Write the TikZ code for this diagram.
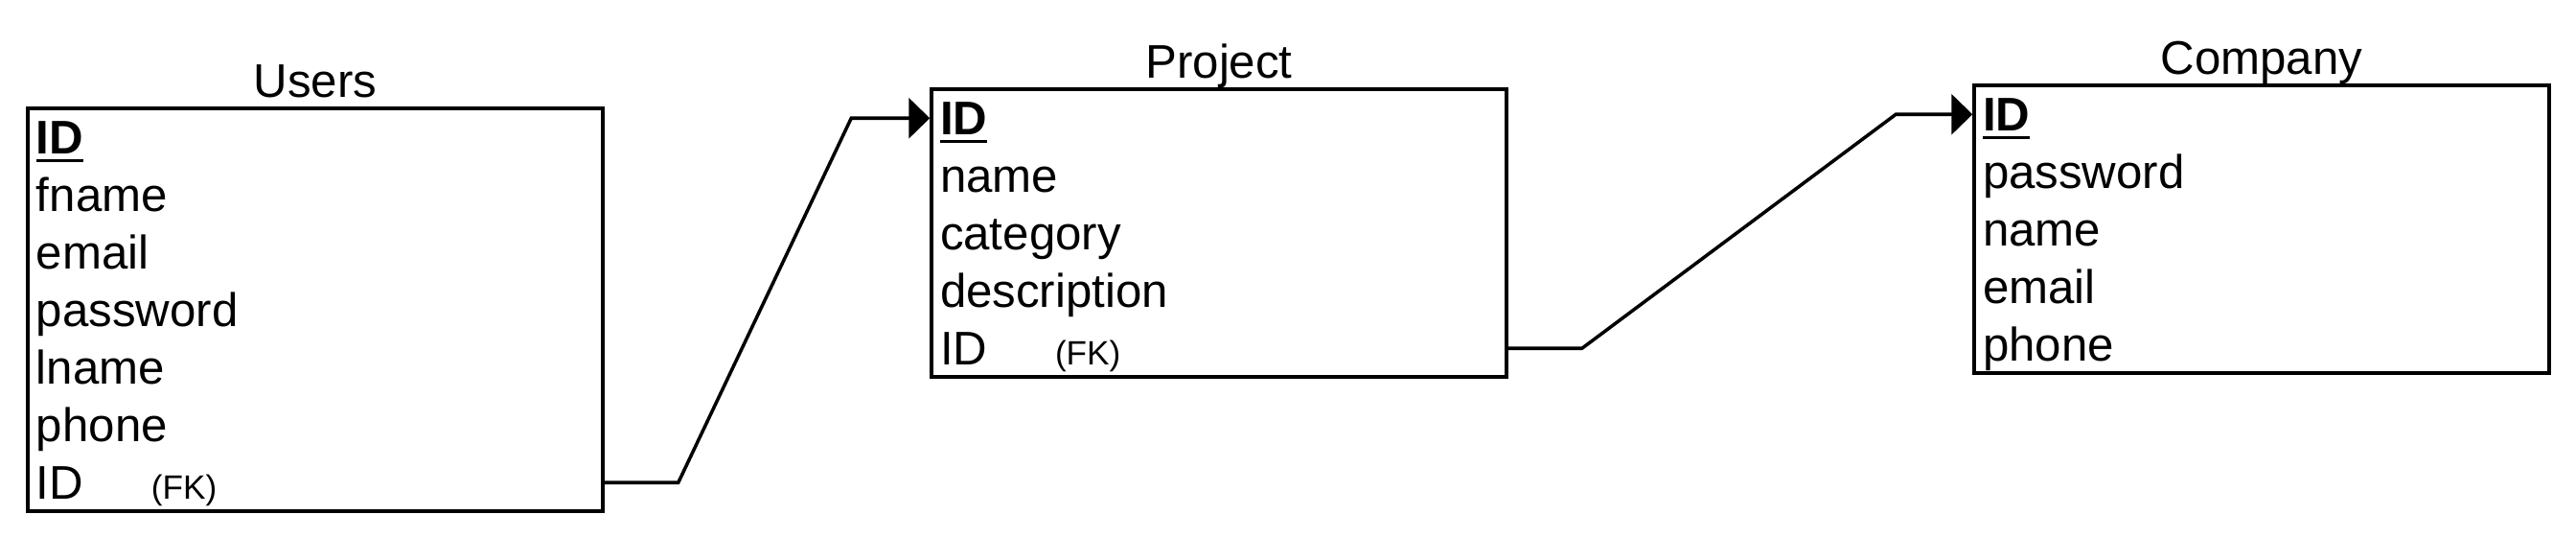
\documentclass[tikz,border=0pt]{standalone}
\usepackage{fontspec}
\setmainfont{Liberation Sans}
\usetikzlibrary{arrows.meta}

\tikzset{
	table/.style={draw, line width=1pt, minimum width=6cm, inner sep=0pt},
	field/.style={text width=5.82cm, align=left, inner sep=0pt, text height=10pt, text depth=3pt, font=\fontsize{14}{17}\selectfont},
	title/.style={anchor=south, inner sep=0pt, yshift=-0.02cm, text height=10pt, text depth=3pt, font=\fontsize{14}{17}\selectfont},
	link/.style={line width=1pt, -{Triangle[length=0.22cm,width=0.42cm]}}
}
\newcommand{\pkey}{\textbf{ID}\llap{\rule[-2.5pt]{14pt}{1pt}}}
\newcommand{\fkey}{\makebox[1.2cm][l]{ID}{\fontsize{10}{12}\selectfont(FK)}}

\begin{document}
\begin{tikzpicture}[node distance=0.6cm]
\useasboundingbox (0,0) rectangle (26.88,-5.6);

% tables
\node(users)	[table, minimum height=4.2cm]	at (3.29,-3.23)	{};
\node(project)	[table, minimum height=3cm]	at (12.72,-2.43)	{};
\node(company)	[table, minimum height=3cm]	at (23.60,-2.39)	{};

\node(users-title)	[title]	at (users.north)	{Users};
\node(project-title)	[title]	at (project.north)	{Project};
\node(company-title)	[title]	at (company.north)	{Company};

% Users fields
\node(u1)	[field]	at ([yshift=-0.37cm]users.north)	{\pkey};
\node(u2)	[field, below of=u1]	{fname};
\node(u3)	[field, below of=u2]	{email};
\node(u4)	[field, below of=u3]	{password};
\node(u5)	[field, below of=u4]	{lname};
\node(u6)	[field, below of=u5]	{phone};
\node(u7)	[field, below of=u6]	{\fkey};

% Project fields
\node(p1)	[field]	at ([yshift=-0.37cm]project.north)	{\pkey};
\node(p2)	[field, below of=p1]	{name};
\node(p3)	[field, below of=p2]	{category};
\node(p4)	[field, below of=p3]	{description};
\node(p5)	[field, below of=p4]	{\fkey};

% Company fields
\node(c1)	[field]	at ([yshift=-0.37cm]company.north)	{\pkey};
\node(c2)	[field, below of=c1]	{password};
\node(c3)	[field, below of=c2]	{name};
\node(c4)	[field, below of=c3]	{email};
\node(c5)	[field, below of=c4]	{phone};

% links
\draw [link] ([yshift=0.05cm]users.east |- u7) -- ++(0.77,0) -- ([xshift=-0.82cm, yshift=0.05cm]project.west |- p1) -- ([yshift=0.05cm]project.west |- p1);
\draw [link] ([yshift=0.05cm]project.east |- p5) -- ++(0.77,0) -- ([xshift=-0.80cm, yshift=0.05cm]company.west |- c1) -- ([yshift=0.05cm]company.west |- c1);

\end{tikzpicture}
\end{document}
